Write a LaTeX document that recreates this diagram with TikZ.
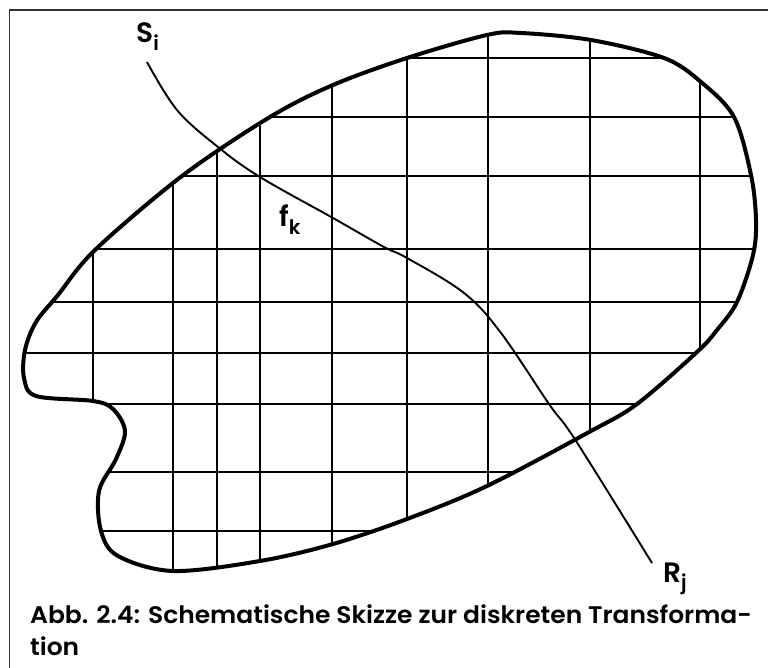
\documentclass[tikz,border=0pt]{standalone}
\usepackage{fontspec}
\setmainfont{Poppins}
\newfontfamily\capfont{Poppins}[UprightFont={* SemiBold},FakeStretch=1.04]
\newfontfamily\lblfont{Poppins}[UprightFont={* SemiBold}]
\newcommand{\lsub}[1]{\raisebox{-0.28em}{\fontsize{20}{20}\selectfont #1}}
\begin{document}
\begin{tikzpicture}[x=1pt,y=-1pt,
  frameline/.style={line width=1.3pt,draw=black!80},
  gridline/.style={line width=2.3pt,line cap=butt},
  blobline/.style={line width=4pt,line join=round},
  rayline/.style={line width=1.9pt},
  lbl/.style={font=\lblfont\fontsize{28}{30}\selectfont,inner sep=0pt},
  caption/.style={font=\capfont\fontsize{24}{32}\selectfont,inner sep=0pt,align=left}]
\useasboundingbox (0,0) rectangle (768,668);
\def\blob{plot[smooth cycle,tension=0.55] coordinates {
 (487,35) (521,33) (591,40) (664,58) (701,82) (734,117) (751,175) (756,220)
 (753,255) (737,302) (717,330) (697,352) (637,404) (591,431) (487,486)
 (407,519) (333,544) (260,561) (173,571) (118,556) (101,531) (99,491)
 (116,459) (125,431) (113,409) (93,401) (36,396) (24,378) (25,350)
 (36,322) (58,295) (95,250) (182,176) (270,117) (333,85) (407,58)}}
% frame
\draw[frameline] (9.6,668) -- (9.6,10) -- (768,10);
% grid
\begin{scope}
 \clip \blob;
 \foreach \y in {58,117,176,249,302,353,404,472,531}
   \draw[gridline] (0,\y) -- (768,\y);
 \foreach \x in {93,173,217,260,332,407,488,590,700}
   \draw[gridline] (\x,0) -- (\x,668);
\end{scope}
\draw[blobline] \blob;
% labels
\node[lbl,anchor=base west] (si) at (136,43) {S\lsub{i}};
\node[lbl,anchor=base west] (fk) at (279,227) {f\lsub{k}};
\node[lbl,anchor=base west] (rj) at (663,582) {R\lsub{j}};
\coordinate (a) at (147,62);
\coordinate (b) at (652,563);
\draw[rayline] plot[smooth,tension=0.6] coordinates {(a) (177,110) (218,147) (260,177)
  (333,218) (384,247) (407,258) (464,293) (501,333) (549,404) (576,441) (b)};
% caption
\node[caption,anchor=base west] (cap) at (30,655)
  {Abb. 2.4: Schematische Skizze zur diskreten Transforma-\\tion};
\end{tikzpicture}
\end{document}
